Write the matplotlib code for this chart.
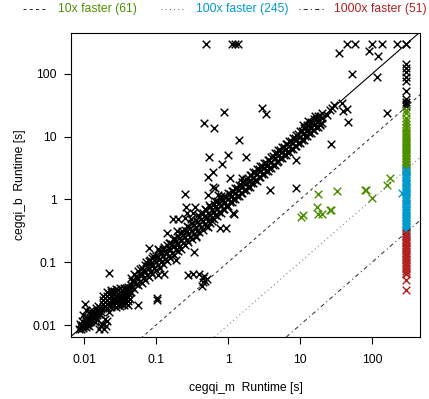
import numpy as np
import matplotlib
matplotlib.use("Agg")
import matplotlib.pyplot as plt
from matplotlib.lines import Line2D

plt.rcParams['font.family'] = ['Liberation Sans', 'DejaVu Sans']

# runtimes in seconds (cegqi_m, cegqi_b)
corner = [(0.0085, 0.0088), (0.009, 0.0095), (0.0092, 0.0086), (0.0095, 0.0102), (0.0098, 0.009),
          (0.0100, 0.0098), (0.0102, 0.0108), (0.0105, 0.0092), (0.0108, 0.0115), (0.011, 0.0100),
          (0.0113, 0.0108), (0.0116, 0.0122), (0.012, 0.0112), (0.0122, 0.0128), (0.0126, 0.0118),
          (0.013, 0.0135), (0.0095, 0.0118), (0.0088, 0.0105), (0.0104, 0.0125), (0.0118, 0.0098),
          (0.0135, 0.0142), (0.014, 0.0128), (0.0145, 0.0158), (0.015, 0.0145), (0.0155, 0.017),
          (0.016, 0.0152), (0.0165, 0.0185), (0.017, 0.016), (0.0135, 0.0165), (0.0148, 0.0185),
          (0.0158, 0.02), (0.0125, 0.0155), (0.0142, 0.0112), (0.0152, 0.0125),
          (0.0103, 0.0215), (0.0098, 0.0144), (0.022, 0.016), (0.017, 0.0095), (0.018, 0.0105),
          (0.019, 0.0088), (0.0205, 0.0098), (0.021, 0.0115), (0.016, 0.0085), (0.0195, 0.0125),
          (0.012, 0.0165), (0.0108, 0.0175), (0.0093, 0.0098), (0.0112, 0.0131), (0.0128, 0.0146),
          (0.0138, 0.0152), (0.0151, 0.0168), (0.0162, 0.0174), (0.0172, 0.0178), (0.0143, 0.0138)]

blob = [(0.0182, 0.019), (0.0182, 0.0219), (0.0182, 0.0251), (0.0182, 0.0288),
        (0.0209, 0.019), (0.0209, 0.0219), (0.0209, 0.0251), (0.0209, 0.0288), (0.0209, 0.0331),
        (0.024, 0.0195), (0.024, 0.0219), (0.024, 0.0251), (0.024, 0.0288), (0.024, 0.0331), (0.024, 0.036),
        (0.0275, 0.0195), (0.0275, 0.0225), (0.0275, 0.0251), (0.0275, 0.0288), (0.0275, 0.0331), (0.0275, 0.038),
        (0.0316, 0.02), (0.0316, 0.0225), (0.0316, 0.026), (0.0316, 0.0295), (0.0316, 0.0335), (0.0316, 0.039),
        (0.0363, 0.0205), (0.0363, 0.023), (0.0363, 0.0265), (0.0363, 0.03), (0.0363, 0.034), (0.0363, 0.039),
        (0.0407, 0.021), (0.0407, 0.0245), (0.0407, 0.028), (0.0407, 0.032), (0.0407, 0.037), (0.0407, 0.041),
        (0.0195, 0.0204), (0.0195, 0.0235), (0.0195, 0.027), (0.0224, 0.0205), (0.0224, 0.0236),
        (0.0224, 0.027), (0.0224, 0.031), (0.0257, 0.0207), (0.0257, 0.0238), (0.0257, 0.027),
        (0.0257, 0.031), (0.0257, 0.035), (0.0295, 0.021), (0.0295, 0.024), (0.0295, 0.0275),
        (0.0295, 0.0315), (0.0295, 0.036), (0.034, 0.0215), (0.034, 0.0247), (0.034, 0.028),
        (0.034, 0.032), (0.034, 0.0365), (0.0385, 0.0225), (0.0385, 0.026), (0.0385, 0.0298),
        (0.0385, 0.0345), (0.0385, 0.0395), (0.043, 0.026), (0.043, 0.033), (0.043, 0.039)]

band = [(0.045, 0.034), (0.045, 0.044), (0.045, 0.056), (0.05, 0.038), (0.05, 0.051), (0.05, 0.065),
        (0.056, 0.043), (0.056, 0.055), (0.056, 0.072), (0.063, 0.047), (0.063, 0.064), (0.063, 0.08),
        (0.071, 0.052), (0.071, 0.07), (0.071, 0.092), (0.079, 0.058), (0.079, 0.081), (0.079, 0.104),
        (0.089, 0.066), (0.089, 0.088), (0.089, 0.118), (0.1, 0.074), (0.1, 0.1), (0.1, 0.128),
        (0.112, 0.082), (0.112, 0.113), (0.112, 0.146), (0.126, 0.095), (0.126, 0.124), (0.126, 0.16),
        (0.141, 0.105), (0.141, 0.14), (0.141, 0.185), (0.158, 0.118), (0.158, 0.155), (0.158, 0.2),
        (0.178, 0.13), (0.178, 0.18), (0.178, 0.225), (0.2, 0.15), (0.2, 0.198), (0.2, 0.26),
        (0.224, 0.165), (0.224, 0.225), (0.224, 0.29), (0.251, 0.185), (0.251, 0.25), (0.251, 0.33),
        (0.282, 0.21), (0.282, 0.285), (0.282, 0.37), (0.316, 0.235), (0.316, 0.31), (0.316, 0.42),
        (0.355, 0.26), (0.355, 0.355), (0.355, 0.47), (0.398, 0.3), (0.398, 0.4), (0.398, 0.53),
        (0.447, 0.33), (0.447, 0.45), (0.447, 0.6), (0.501, 0.38), (0.501, 0.5), (0.501, 0.68),
        (0.562, 0.42), (0.562, 0.57), (0.562, 0.76), (0.631, 0.48), (0.631, 0.63), (0.631, 0.84),
        (0.708, 0.54), (0.708, 0.71), (0.708, 0.93), (0.794, 0.6), (0.794, 0.8), (0.794, 1.02),
        (0.891, 0.7), (0.891, 0.88), (0.891, 1.12), (1.0, 0.8), (1.0, 1.0), (1.0, 1.25),
        (1.12, 0.9), (1.12, 1.12), (1.12, 1.38), (1.26, 1.0), (1.26, 1.25), (1.26, 1.55),
        (1.41, 1.12), (1.41, 1.42), (1.41, 1.72), (1.58, 1.27), (1.58, 1.6), (1.58, 1.9),
        (1.78, 1.42), (1.78, 1.8), (1.78, 2.15), (2.0, 1.6), (2.0, 2.0), (2.0, 2.45),
        (2.24, 1.8), (2.24, 2.22), (2.24, 2.75), (2.51, 2.0), (2.51, 2.5), (2.51, 3.05),
        (2.82, 2.25), (2.82, 2.8), (2.82, 3.4), (3.16, 2.55), (3.16, 3.15), (3.16, 3.85),
        (3.55, 2.85), (3.55, 3.6), (3.55, 4.3), (3.98, 3.2), (3.98, 4.0), (3.98, 4.8),
        (4.47, 3.6), (4.47, 4.5), (4.47, 5.4), (5.01, 4.05), (5.01, 5.0), (5.01, 6.1),
        (5.62, 4.5), (5.62, 5.6), (5.62, 6.8), (6.31, 5.1), (6.31, 6.3), (6.31, 7.6),
        (7.08, 5.7), (7.08, 7.1), (7.08, 8.5), (7.94, 6.4), (7.94, 7.9), (7.94, 9.6),
        (8.91, 7.2), (8.91, 8.9), (8.91, 10.8), (10, 8.0), (10, 10.0), (10, 12.2),
        (11.2, 9.0), (11.2, 11.4), (11.2, 13.6), (12.6, 10.2), (12.6, 12.5), (12.6, 15.2),
        (14.1, 11.5), (14.1, 14.0), (14.1, 17.0), (15.8, 12.8), (15.8, 15.6), (15.8, 19.0),
        (17.8, 14.5), (17.8, 17.5), (17.8, 21.0), (20, 16.5), (20, 19.5), (20, 23.5),
        (11, 15.5), (13, 17.5), (16, 21.5), (18.5, 18), (14.8, 16.5), (12, 14.5), (19, 15.5),
        (24, 22), (26, 27), (28, 29), (30, 32), (38, 35), (40, 26), (45, 28), (46, 17)]

# second, offset row of the band
band2 = [(0.047, 0.041), (0.047, 0.05), (0.053, 0.045), (0.053, 0.06), (0.059, 0.05), (0.059, 0.066),
         (0.067, 0.057), (0.067, 0.075), (0.075, 0.062), (0.075, 0.086), (0.084, 0.07), (0.084, 0.097),
         (0.094, 0.08), (0.094, 0.108), (0.106, 0.09), (0.106, 0.122), (0.119, 0.1), (0.119, 0.138),
         (0.133, 0.112), (0.133, 0.153), (0.15, 0.127), (0.15, 0.17), (0.168, 0.143), (0.168, 0.195),
         (0.188, 0.158), (0.188, 0.215), (0.211, 0.178), (0.211, 0.245), (0.237, 0.2), (0.237, 0.272),
         (0.266, 0.225), (0.266, 0.31), (0.299, 0.25), (0.299, 0.345), (0.335, 0.28), (0.335, 0.39),
         (0.376, 0.318), (0.376, 0.435), (0.422, 0.36), (0.422, 0.49), (0.473, 0.4), (0.473, 0.55),
         (0.531, 0.45), (0.531, 0.62), (0.596, 0.5), (0.596, 0.69), (0.668, 0.57), (0.668, 0.77),
         (0.75, 0.64), (0.75, 0.87), (0.841, 0.71), (0.841, 0.97), (0.944, 0.8), (0.944, 1.08),
         (1.06, 0.9), (1.06, 1.22), (1.19, 1.01), (1.19, 1.37), (1.33, 1.13), (1.33, 1.53),
         (1.5, 1.28), (1.5, 1.72), (1.68, 1.43), (1.68, 1.93), (1.88, 1.6), (1.88, 2.16),
         (2.11, 1.8), (2.11, 2.42), (2.37, 2.02), (2.37, 2.72), (2.66, 2.26), (2.66, 3.05),
         (2.99, 2.55), (2.99, 3.43), (3.35, 2.85), (3.35, 3.85), (3.76, 3.2), (3.76, 4.3),
         (4.22, 3.6), (4.22, 4.85), (4.73, 4.0), (4.73, 5.45), (5.31, 4.5), (5.31, 6.1),
         (5.96, 5.05), (5.96, 6.85), (6.68, 5.7), (6.68, 7.7), (7.5, 6.4), (7.5, 8.6),
         (8.41, 7.15), (8.41, 9.7), (9.44, 8.0), (9.44, 10.9), (10.6, 9.0), (10.6, 12.2),
         (11.9, 10.1), (11.9, 13.7), (13.3, 11.3), (13.3, 15.3), (15, 12.7), (15, 17.2),
         (16.8, 14.3), (16.8, 19.3), (18.8, 16.0), (18.8, 21.6), (0.31, 0.48), (0.42, 0.62),
         (0.55, 0.82), (0.6, 0.45), (0.52, 0.37), (0.36, 0.25), (0.15, 0.2), (0.09, 0.125),
         (0.06, 0.078), (0.072, 0.1), (0.083, 0.11), (0.11, 0.158), (0.13, 0.175), (0.175, 0.245),
         (0.23, 0.32), (0.27, 0.38), (0.38, 0.56), (0.48, 0.7), (0.66, 0.95), (0.8, 1.15)]

outliers = [(0.46, 16.7), (0.64, 13.9), (0.88, 25), (1.42, 9), (0.54, 4.8), (1.0, 5.2), (0.83, 3.7),
            (1.78, 4.8), (0.53, 2.3), (0.62, 2.7), (1.07, 2.2), (1.56, 2.2), (0.62, 1.6), (0.66, 1.5),
            (0.53, 1.16), (0.73, 1.16), (0.25, 1.2), (0.08, 0.17), (0.107, 0.16), (0.14, 0.29),
            (0.196, 0.31), (0.17, 0.48), (0.2, 0.49), (0.25, 0.5), (0.26, 0.75), (0.35, 0.77),
            (0.27, 0.6), (0.33, 0.6), (0.022, 0.067), (8.8, 4.3), (3.8, 1.44), (8.9, 1.55),
            (1.2, 0.58), (1.17, 0.6), (0.77, 0.35), (0.94, 0.35), (0.34, 0.144), (0.19, 0.11),
            (0.107, 0.062), (0.13, 0.064), (0.28, 0.062), (0.33, 0.066), (0.4, 0.064), (0.46, 0.06),
            (0.45, 0.048), (0.51, 0.054), (0.44, 0.042), (0.103, 0.025), (0.103, 0.027),
            (0.056, 0.021), (0.45, 0.056), (0.48, 0.05), (162, 24), (27, 7.7), (53, 100), (117, 90),
            (2.96, 29), (3.4, 23)]

# timeouts (300 s)
top_row = [(0.50, 300), (1.14, 300), (1.25, 300), (1.38, 300), (35, 215), (45, 300), (58, 300),
           (91, 230), (100, 300), (121, 194), (138, 300), (220, 300), (300, 300), (300, 300)]
col_black = [144, 125, 106, 90, 77, 53, 40, 36, 33, 31]

green_mid = [(17.8, 1.2), (32.6, 1.34), (83, 1.39), (80, 1.44), (100, 1.04), (177, 2.2), (161, 1.7),
             (17.2, 0.75), (17.8, 0.58), (20, 0.58), (26, 0.67), (10.3, 0.52), (11, 0.56), (27, 0.67)]
col_green = [27, 24, 20, 17.5, 16, 14.5, 13.5, 12.5, 11.6, 10.8, 10.1, 9.5, 8.9, 8.3, 7.8, 7.3,
             6.9, 6.5, 6.1, 5.8, 5.5, 5.2, 4.9, 4.6, 4.35, 4.1, 3.9, 3.7, 3.5, 3.35, 3.2, 3.1]
blue_mid = [(260, 1.25)]
col_blue = [2.95, 2.8, 2.7, 2.55, 2.4, 2.3, 2.2, 2.05, 1.95, 1.85, 1.75, 1.65, 1.55, 1.5, 1.4,
            1.32, 1.25, 1.18, 1.1, 1.05, 1.0, 0.94, 0.89, 0.84, 0.8, 0.75, 0.71, 0.67, 0.63, 0.6,
            0.56, 0.53, 0.5, 0.47, 0.45, 0.42, 0.4, 0.38, 0.36, 0.34, 0.32, 0.31]
col_red = [0.295, 0.28, 0.265, 0.25, 0.235, 0.22, 0.21, 0.2, 0.19, 0.18, 0.17, 0.16, 0.15, 0.142,
           0.135, 0.128, 0.12, 0.113, 0.107, 0.1, 0.094, 0.088, 0.082, 0.077, 0.072, 0.068,
           0.064, 0.052, 0.036]
timeout = 300

ticks = [0.01, 0.1, 1, 10, 100]
tick_labels = ['0.01', '0.1', '1', '10', '100']
legend_labels = ['10x faster (61)', '100x faster (245)', '1000x faster (51)']

GREEN = '#4f9000'
BLUE = '#009ACD'
RED = '#B22222'

fig = plt.figure(figsize=(4.29, 3.99), dpi=100)
ax = fig.add_axes([71 / 429, 1 - 337 / 399, 349 / 429, 304 / 399])
ax.set_xscale('log')
ax.set_yscale('log')
ax.set_xlim(0.00659, 464)
ax.set_ylim(0.00645, 448)

mk = dict(marker='x', s=30, linewidths=1.05)

black = np.array(corner + blob + band + band2 + outliers + top_row)
ax.scatter(black[:, 0], black[:, 1], color='black', **mk)
ax.scatter([timeout] * len(col_black), col_black, color='black', **mk)

gm = np.array(green_mid)
ax.scatter(gm[:, 0], gm[:, 1], color=GREEN, **mk)
ax.scatter([timeout] * len(col_green), col_green, color=GREEN, **mk)
bm = np.array(blue_mid)
ax.scatter(bm[:, 0], bm[:, 1], color=BLUE, **mk)
ax.scatter([timeout] * len(col_blue), col_blue, color=BLUE, **mk)
ax.scatter([timeout] * len(col_red), col_red, color=RED, **mk)

# reference lines
xs = np.array([0.001, 1000])
ax.plot(xs, xs, color='black', lw=0.8)
styles = [((0, (3, 3)), '#333333'), ((0, (1, 3)), '#777777'), ((0, (1, 3, 4, 3)), '#333333')]
for f, (ls, c) in zip([10, 100, 1000], styles):
    ax.plot(xs, xs / f, color=c, lw=0.75, linestyle=ls)

ax.set_xticks(ticks)
ax.set_xticklabels(tick_labels)
ax.set_yticks(ticks)
ax.set_yticklabels(tick_labels)
ax.minorticks_off()
ax.tick_params(axis='both', length=5, width=0.8, labelsize=8.7, colors='black')
ax.tick_params(axis='x', pad=7.5)
ax.tick_params(axis='y', pad=5.5)
for sp in ax.spines.values():
    sp.set_linewidth(0.8)

fig.text(245.5 / 429, 1 - 388 / 399, 'cegqi_m  Runtime [s]', ha='center', va='center', fontsize=8.7)
fig.text(20 / 429, 1 - 185 / 399, 'cegqi_b  Runtime [s]', ha='center', va='center',
         rotation=90, fontsize=8.7)

# legend across the top
ly = 1 - 9 / 399
leg = [(23, 47, 58, (0, (3, 3)), '#333333', GREEN),
       (161, 184, 196, (0, (1, 3)), '#777777', BLUE),
       (299, 323, 334, (0, (1, 3, 4, 3)), '#333333', RED)]
for (x0, x1, xt, ls, lc, tc), lab in zip(leg, legend_labels):
    fig.add_artist(Line2D([x0 / 429, x1 / 429], [ly, ly], transform=fig.transFigure,
                          color=lc, lw=0.75, linestyle=ls))
    fig.text(xt / 429, ly, lab, color=tc, ha='left', va='center', fontsize=8.7)

fig.savefig('out.png', dpi=100)
